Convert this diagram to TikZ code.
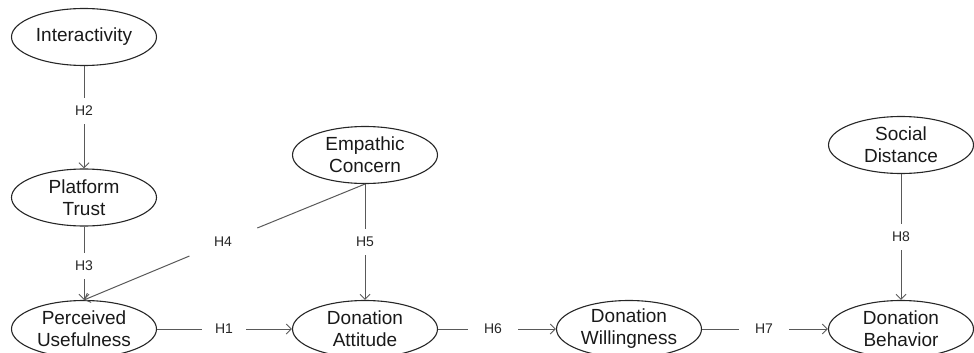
\documentclass[tikz,border=0pt]{standalone}
\usepackage{fontspec}
\setmainfont{Liberation Sans}
\usetikzlibrary{shapes.geometric,arrows.meta}
\begin{document}
\begin{tikzpicture}[x=1pt,y=-1pt,
 ell/.style={ellipse,draw=black!85,line width=1.1pt,minimum width=145pt,minimum height=57pt,inner sep=0pt},
 lbl/.style={font=\fontsize{19}{22}\selectfont,align=center,text=black!90,inner sep=0pt},
 hyp/.style={font=\fontsize{14}{16}\selectfont,text=black!85,inner xsep=#1,inner ysep=8pt},
 hyp/.default=13pt,
 conn/.style={draw=black!65,line width=1pt},
 arr/.style={conn,-{Straight Barb[length=5pt,width=10pt]}}]
\useasboundingbox (0,0) rectangle (974,353);

% ellipses
\node[ell] (int) at (84,37) {};
\node[ell] (pt)  at (84,197.5) {};
\node[ell] (pu)  at (84,329) {};
\node[ell] (emp) at (365,155) {};
\node[ell] (att) at (365,329) {};
\node[ell] (wil) at (629,329) {};
\node[ell] (beh) at (901,329) {};
\node[ell] (sd)  at (901,145) {};

% texts
\node[lbl] at (int) {Interactivity};
\node[lbl] at (pt)  {Platform\\Trust};
\node[lbl] at (pu)  {Perceived\\Usefulness};
\node[lbl] at (emp) {Empathic\\Concern};
\node[lbl] at (att) {Donation\\Attitude};
\node[lbl] at (wil) {Donation\\Willingness};
\node[lbl] at (beh) {Donation\\Behavior};
\node[lbl] at (sd)  {Social\\Distance};

% hypothesis labels
\node[hyp] (h2) at (84,111) {H2};
\node[hyp] (h3) at (84,266) {H3};
\node[hyp=30pt,inner ysep=9pt] (h4) at (223,242) {H4};
\node[hyp] (h5) at (365,242) {H5};
\node[hyp=13pt] (h1) at (224,329) {H1};
\node[hyp=16pt] (h6) at (493,329) {H6};
\node[hyp=16pt] (h7) at (764,329) {H7};
\node[hyp] (h8) at (901,237) {H8};

% connectors
\draw[conn] (int) -- (h2); \draw[arr] (h2) -- (pt);
\draw[conn] (pt) -- (h3);  \draw[arr] (h3) -- (pu.north);
\draw[conn] (emp.south) -- (h4); \draw[arr] (h4) -- (pu.north);
\draw[conn] (emp) -- (h5); \draw[arr] (h5) -- (att);
\draw[conn] (pu) -- (h1);  \draw[arr] (h1) -- (att);
\draw[conn] (att) -- (h6); \draw[arr] (h6) -- (wil);
\draw[conn] (wil) -- (h7); \draw[arr] (h7) -- (beh);
\draw[conn] (sd) -- (h8);  \draw[arr] (h8) -- (beh);
\end{tikzpicture}
\end{document}
